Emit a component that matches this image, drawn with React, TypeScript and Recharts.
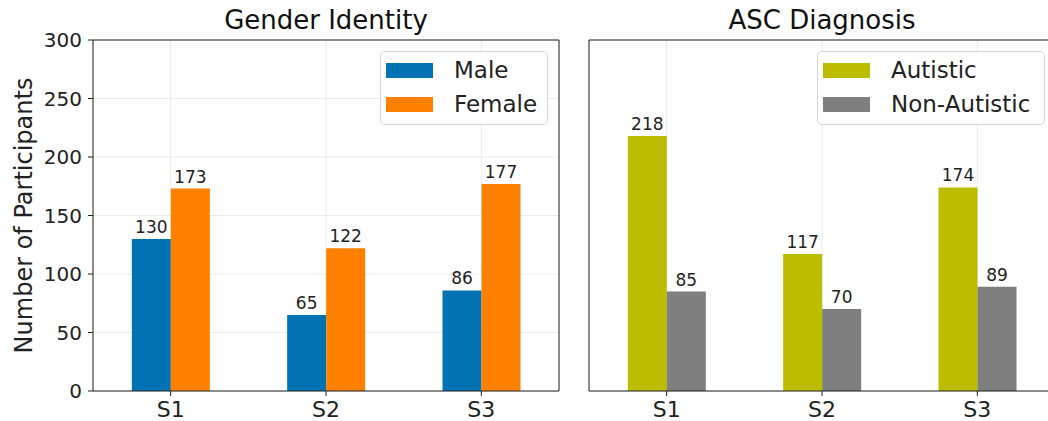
import React from 'react';
import { BarChart, Bar, XAxis, YAxis, CartesianGrid, LabelList, Legend } from 'recharts';

const categories = ['S1', 'S2', 'S3'];
const maleValues = [130, 65, 86];
const femaleValues = [173, 122, 177];
const autisticValues = [218, 117, 174];
const nonAutisticValues = [85, 70, 89];
const yTicks = [0, 50, 100, 150, 200, 250, 300];

const genderData = categories.map((name, i) => ({ name, Male: maleValues[i], Female: femaleValues[i] }));
const ascData = categories.map((name, i) => ({ name, Autistic: autisticValues[i], 'Non-Autistic': nonAutisticValues[i] }));

const FONT = '"DejaVu Sans", sans-serif';
const AXIS = '#222';
const GRID = '#ebebeb';

const COLORS = {
  Male: '#0173b2',
  Female: '#ff7f00',
  Autistic: '#bcbd00',
  'Non-Autistic': '#7f7f7f',
};

function makeLegend(items: string[], width: number) {
  return () => (
    <div
      style={{
        width,
        height: 74,
        boxSizing: 'border-box',
        border: '1px solid #d6d6d6',
        borderRadius: 5,
        background: 'rgba(255,255,255,0.85)',
        paddingTop: 1,
        paddingLeft: 5,
        fontFamily: FONT,
      }}
    >
      {items.map((it) => (
        <div key={it} style={{ display: 'flex', alignItems: 'center', height: 34 }}>
          <div style={{ width: 47, height: 15, background: (COLORS as any)[it] }} />
          <div style={{ marginLeft: 21, fontSize: 23, color: '#222', lineHeight: '23px' }}>{it}</div>
        </div>
      ))}
    </div>
  );
}

const frameTop = (p: any) => [p.offset.top];
const frameRight = (p: any) => [p.offset.left + p.offset.width];

function Panel(props: {
  data: any[];
  keys: string[];
  width: number;
  marginRight: number;
  yWidth: number;
  showYLabels: boolean;
  legendLeft: number;
  legendWidth: number;
}) {
  const { data, keys, width, marginRight, yWidth, showYLabels, legendLeft, legendWidth } = props;
  return (
    <BarChart
      width={width}
      height={421}
      data={data}
      margin={{ top: 40, right: marginRight, bottom: 0, left: 0 }}
      barCategoryGap="25%"
      barGap={0}
    >
      <CartesianGrid stroke={GRID} strokeWidth={1} />
      <CartesianGrid
        stroke={AXIS}
        strokeWidth={1}
        horizontalCoordinatesGenerator={frameTop}
        verticalCoordinatesGenerator={frameRight}
      />
      <XAxis
        dataKey="name"
        height={30}
        tick={{ fontSize: 22, fill: AXIS, fontFamily: FONT }}
        tickLine={{ stroke: AXIS }}
        axisLine={{ stroke: AXIS }}
        tickSize={5}
        tickMargin={5}
      />
      <YAxis
        domain={[0, 300]}
        ticks={yTicks}
        width={yWidth}
        tick={showYLabels ? { fontSize: 20, fill: AXIS, fontFamily: FONT } : false}
        tickLine={{ stroke: AXIS }}
        axisLine={{ stroke: AXIS }}
        tickSize={5}
        tickMargin={6}
        allowDataOverflow
        label={
          showYLabels
            ? {
                value: 'Number of Participants',
                angle: -90,
                position: 'center',
                dx: -23.5,
                style: { fontSize: 24, fill: AXIS, fontFamily: FONT, textAnchor: 'middle' },
              }
            : undefined
        }
      />
      <Legend
        layout="vertical"
        align="center"
        verticalAlign="middle"
        content={makeLegend(keys, legendWidth)}
        wrapperStyle={{ position: 'absolute', left: legendLeft, top: 51, width: legendWidth, height: 74 }}
      />
      {keys.map((k) => (
        <Bar key={k} dataKey={k} fill={(COLORS as any)[k]} isAnimationActive={false}>
          <LabelList
            dataKey={k}
            position="top"
            offset={6}
            style={{ fontSize: 17, fill: '#222', fontFamily: FONT }}
          />
        </Bar>
      ))}
    </BarChart>
  );
}

export default function App() {
  return (
    <div
      style={{
        position: 'absolute',
        left: 0,
        top: 0,
        width: 1048,
        height: 421,
        overflow: 'hidden',
        background: '#fff',
        fontFamily: FONT,
      }}
    >
      <div style={{ position: 'absolute', left: 0, top: 0 }}>
        <Panel
          data={genderData}
          keys={['Male', 'Female']}
          width={570}
          marginRight={11}
          yWidth={93}
          showYLabels={true}
          legendLeft={380}
          legendWidth={168}
        />
      </div>
      <div style={{ position: 'absolute', left: 560, top: 0 }}>
        <Panel
          data={ascData}
          keys={['Autistic', 'Non-Autistic']}
          width={560}
          marginRight={65}
          yWidth={29}
          showYLabels={false}
          legendLeft={257}
          legendWidth={228}
        />
      </div>
      <svg width={1048} height={40} style={{ position: 'absolute', left: 0, top: 0 }}>
        <text x={326} y={29} textAnchor="middle" fontSize={26} fill="#111" fontFamily={FONT}>
          Gender Identity
        </text>
        <text x={822} y={29} textAnchor="middle" fontSize={26} fill="#111" fontFamily={FONT}>
          ASC Diagnosis
        </text>
      </svg>
    </div>
  );
}
